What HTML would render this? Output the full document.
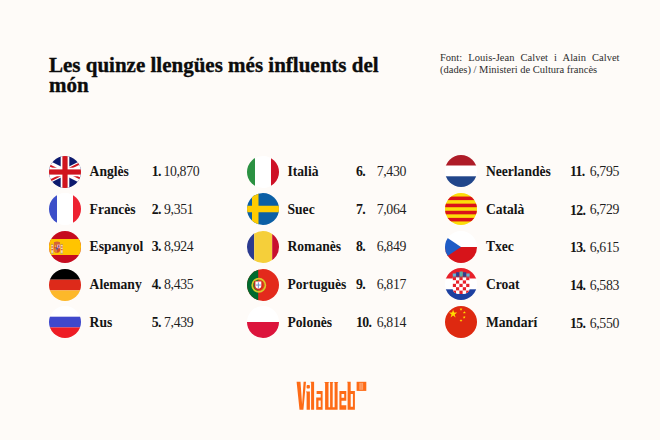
<!DOCTYPE html>
<html><head><meta charset="utf-8">
<style>
html,body{margin:0;padding:0;}
body{width:660px;height:440px;overflow:hidden;background:#fefbf8;position:relative;font-family:"Liberation Serif",serif;color:#111;}
.a{position:absolute;white-space:nowrap;}
.title{left:49px;top:54.8px;font-size:21px;font-weight:bold;line-height:20px;color:#0c0c0c;-webkit-text-stroke:0.35px #0c0c0c;}
.src{left:440px;top:52px;width:179.5px;font-size:10.5px;line-height:12px;color:#2e2e2e;text-align:justify;white-space:normal;}
.flag{position:absolute;width:32px;height:32px;}
.lab{position:absolute;font-size:13.6px;letter-spacing:0px;font-weight:bold;line-height:16px;white-space:nowrap;color:#141414;-webkit-text-stroke:0px #141414;}
.rk{position:absolute;font-size:13.8px;letter-spacing:-0.6px;font-weight:bold;line-height:16px;white-space:nowrap;color:#141414;}
.val{position:absolute;font-size:13.8px;letter-spacing:-0.35px;line-height:16px;white-space:nowrap;color:#1e1e1e;}
</style></head><body>
<div class="a title">Les quinze llengües més influents del<br>món</div>
<div class="a src">Font: Louis-Jean Calvet i Alain Calvet (dades) / Ministeri de Cultura francès</div>
<svg class="flag" style="left:48.70px;top:155.50px" width="32" height="32" viewBox="0 0 32 32"><defs><clipPath id="c0"><circle cx="16" cy="16" r="16"/></clipPath></defs><g clip-path="url(#c0)"><rect x="-16" y="0" width="64" height="32" fill="#0d1a6e"/><path d="M-19.78,-1.89 L51.78,33.89 M-19.78,33.89 L51.78,-1.89" stroke="#fff" stroke-width="6.4"/><path d="M15.55,16.89 L-20.22,-0.99 M16.45,15.11 L52.22,32.99 M15.55,15.11 L51.33,-2.78 M16.45,16.89 L-19.33,34.78" stroke="#d0141e" stroke-width="2.1"/><rect x="11.7" y="-2" width="8.6" height="36" fill="#fff"/><rect x="-16" y="11.7" width="64" height="8.6" fill="#fff"/><rect x="13.4" y="-2" width="5.2" height="36" fill="#d0141e"/><rect x="-16" y="13.4" width="64" height="5.2" fill="#d0141e"/></g></svg>
<svg class="flag" style="left:48.70px;top:193.30px" width="32" height="32" viewBox="0 0 32 32"><defs><clipPath id="c1"><circle cx="16" cy="16" r="16"/></clipPath></defs><g clip-path="url(#c1)"><rect x="-8" y="0" width="16" height="32" fill="#3d4fc9"/><rect x="8" y="0" width="16" height="32" fill="#fff"/><rect x="24" y="0" width="16" height="32" fill="#ee2232"/></g></svg>
<svg class="flag" style="left:48.70px;top:231.00px" width="32" height="32" viewBox="0 0 32 32"><defs><clipPath id="c2"><circle cx="16" cy="16" r="16"/></clipPath></defs><g clip-path="url(#c2)"><rect x="-8" y="0" width="48" height="32" fill="#c60b1e"/><rect x="-8" y="8" width="48" height="16" fill="#ffc400"/><rect x="2.3" y="13.6" width="1.9" height="8.4" fill="#e9d6c8"/><rect x="2.3" y="15.5" width="1.9" height="1" fill="#d0452e"/><rect x="2.3" y="18.2" width="1.9" height="1" fill="#d0452e"/><rect x="1.9" y="12.9" width="2.7" height="1" fill="#c89a3a"/><rect x="1.9" y="21.8" width="2.7" height="1" fill="#b9b070"/><rect x="11.7" y="13.6" width="1.9" height="8.4" fill="#e9d6c8"/><rect x="11.7" y="15.5" width="1.9" height="1" fill="#d0452e"/><rect x="11.7" y="18.2" width="1.9" height="1" fill="#d0452e"/><rect x="11.3" y="12.9" width="2.7" height="1" fill="#c89a3a"/><rect x="11.3" y="21.8" width="2.7" height="1" fill="#b9b070"/><path d="M5.2,13.6 L4.9,11.2 Q8,9.6 11.1,11.2 L10.8,13.6z" fill="#d2643a"/><path d="M4.9,13.6 H11.1 V18.6 Q11.1,21.8 8,21.8 Q4.9,21.8 4.9,18.6z" fill="#d04a2c"/><rect x="8" y="13.6" width="3.1" height="3.6" fill="#e8b8c0"/><rect x="8.8" y="14.3" width="1.6" height="2.2" fill="#9a4a8a"/><rect x="5.6" y="14.2" width="1.7" height="2" fill="#e8b050"/><path d="M4.9,17.2 H8 V21.8 Q4.9,21.8 4.9,18.6z" fill="#e07a3a"/><ellipse cx="8" cy="17.6" rx="1" ry="1.1" fill="#4a5a9a"/></g></svg>
<svg class="flag" style="left:48.70px;top:268.80px" width="32" height="32" viewBox="0 0 32 32"><defs><clipPath id="c3"><circle cx="16" cy="16" r="16"/></clipPath></defs><g clip-path="url(#c3)"><rect x="-8" y="0" width="48" height="10.7" fill="#000"/><rect x="-8" y="10.7" width="48" height="10.7" fill="#dd2a1a"/><rect x="-8" y="21.4" width="48" height="10.6" fill="#fdb82a"/></g></svg>
<svg class="flag" style="left:48.70px;top:306.40px" width="32" height="32" viewBox="0 0 32 32"><defs><clipPath id="c4"><circle cx="16" cy="16" r="16"/></clipPath></defs><g clip-path="url(#c4)"><rect x="-8" y="0" width="48" height="10.7" fill="#fff"/><rect x="-8" y="10.7" width="48" height="10.7" fill="#3f48cc"/><rect x="-8" y="21.4" width="48" height="10.6" fill="#ee1c24"/></g></svg>
<svg class="flag" style="left:246.80px;top:155.50px" width="32" height="32" viewBox="0 0 32 32"><defs><clipPath id="c5"><circle cx="16" cy="16" r="16"/></clipPath></defs><g clip-path="url(#c5)"><rect x="-8" y="0" width="16" height="32" fill="#2b9142"/><rect x="8" y="0" width="16" height="32" fill="#fff"/><rect x="24" y="0" width="16" height="32" fill="#ce1126"/></g></svg>
<svg class="flag" style="left:246.80px;top:193.30px" width="32" height="32" viewBox="0 0 32 32"><defs><clipPath id="c6"><circle cx="16" cy="16" r="16"/></clipPath></defs><g clip-path="url(#c6)"><rect x="-8" y="0" width="48" height="32" fill="#0b5fa5"/><rect x="5" y="0" width="6.5" height="32" fill="#fecc02"/><rect x="-8" y="12.75" width="48" height="6.5" fill="#fecc02"/></g></svg>
<svg class="flag" style="left:246.80px;top:231.00px" width="32" height="32" viewBox="0 0 32 32"><defs><clipPath id="c7"><circle cx="16" cy="16" r="16"/></clipPath></defs><g clip-path="url(#c7)"><rect x="-8" y="0" width="15.2" height="32" fill="#2b3a8f"/><rect x="7.2" y="0" width="18" height="32" fill="#f5cf3a"/><rect x="25.2" y="0" width="15" height="32" fill="#c8102e"/></g></svg>
<svg class="flag" style="left:246.80px;top:268.80px" width="32" height="32" viewBox="0 0 32 32"><defs><clipPath id="c8"><circle cx="16" cy="16" r="16"/></clipPath></defs><g clip-path="url(#c8)"><rect x="-8" y="0" width="48" height="32" fill="#e32a1c"/><rect x="-8" y="0" width="19.2" height="32" fill="#006a2e"/><circle cx="11.8" cy="16.2" r="6.6" fill="none" stroke="#d9c82a" stroke-width="1.7"/><circle cx="11.8" cy="16.2" r="5.2" fill="none" stroke="#c9a020" stroke-width="0.6" opacity="0.6"/><path d="M7.2,11.9 h8.3 v5 q0,4 -4.15,4 q-4.15,0 -4.15,-4z" fill="#d82a1e"/><path d="M8.4,12.6 h5.9 v4.2 q0,2.8 -2.95,2.8 q-2.95,0 -2.95,-2.8z" fill="#fff"/><rect x="10.85" y="13.3" width="1.0" height="5.6" fill="#7090c8"/><rect x="8.9" y="15.55" width="4.9" height="1.0" fill="#7090c8"/></g></svg>
<svg class="flag" style="left:246.80px;top:306.40px" width="32" height="32" viewBox="0 0 32 32"><defs><clipPath id="c9"><circle cx="16" cy="16" r="16"/></clipPath></defs><g clip-path="url(#c9)"><rect x="-8" y="0" width="48" height="16" fill="#fff"/><rect x="-8" y="16" width="48" height="16" fill="#dc143c"/></g></svg>
<svg class="flag" style="left:444.90px;top:155.00px" width="32" height="32" viewBox="0 0 32 32"><defs><clipPath id="c10"><circle cx="16" cy="16" r="16"/></clipPath></defs><g clip-path="url(#c10)"><rect x="-8" y="0" width="48" height="10.7" fill="#ae1c28"/><rect x="-8" y="10.7" width="48" height="10.6" fill="#fff"/><rect x="-8" y="21.3" width="48" height="10.7" fill="#21468b"/></g></svg>
<svg class="flag" style="left:444.90px;top:192.80px" width="32" height="32" viewBox="0 0 32 32"><defs><clipPath id="c11"><circle cx="16" cy="16" r="16"/></clipPath></defs><g clip-path="url(#c11)"><rect x="-8" y="0" width="48" height="32" fill="#fcdd09"/><rect x="-8" y="3.556" width="48" height="3.556" fill="#da121a"/><rect x="-8" y="10.667" width="48" height="3.556" fill="#da121a"/><rect x="-8" y="17.778" width="48" height="3.556" fill="#da121a"/><rect x="-8" y="24.889" width="48" height="3.556" fill="#da121a"/></g></svg>
<svg class="flag" style="left:444.90px;top:230.50px" width="32" height="32" viewBox="0 0 32 32"><defs><clipPath id="c12"><circle cx="16" cy="16" r="16"/></clipPath></defs><g clip-path="url(#c12)"><rect x="-8" y="0" width="48" height="16" fill="#fff"/><rect x="-8" y="16" width="48" height="16" fill="#d7141a"/><path d="M-8,0 L16,16 L-8,32z" fill="#1f5cc6"/></g></svg>
<svg class="flag" style="left:444.90px;top:268.20px" width="32" height="32" viewBox="0 0 32 32"><defs><clipPath id="c13"><circle cx="16" cy="16" r="16"/></clipPath></defs><g clip-path="url(#c13)"><rect x="-8" y="0" width="48" height="10.7" fill="#e8202a"/><rect x="-8" y="10.7" width="48" height="10.6" fill="#fff"/><rect x="-8" y="21.3" width="48" height="10.7" fill="#1d40a0"/><clipPath id="hrs"><path d="M7.6,9 h17 v12 q0,5 -8.5,5 q-8.5,0 -8.5,-5z"/></clipPath><g clip-path="url(#hrs)"><rect x="7.6" y="9" width="17" height="18" fill="#fff"/><rect x="7.60" y="9.00" width="3.40" height="3.40" fill="#e8202a"/><rect x="11.00" y="9.00" width="3.40" height="3.40" fill="#fff"/><rect x="14.40" y="9.00" width="3.40" height="3.40" fill="#e8202a"/><rect x="17.80" y="9.00" width="3.40" height="3.40" fill="#fff"/><rect x="21.20" y="9.00" width="3.40" height="3.40" fill="#e8202a"/><rect x="7.60" y="12.40" width="3.40" height="3.40" fill="#fff"/><rect x="11.00" y="12.40" width="3.40" height="3.40" fill="#e8202a"/><rect x="14.40" y="12.40" width="3.40" height="3.40" fill="#fff"/><rect x="17.80" y="12.40" width="3.40" height="3.40" fill="#e8202a"/><rect x="21.20" y="12.40" width="3.40" height="3.40" fill="#fff"/><rect x="7.60" y="15.80" width="3.40" height="3.40" fill="#e8202a"/><rect x="11.00" y="15.80" width="3.40" height="3.40" fill="#fff"/><rect x="14.40" y="15.80" width="3.40" height="3.40" fill="#e8202a"/><rect x="17.80" y="15.80" width="3.40" height="3.40" fill="#fff"/><rect x="21.20" y="15.80" width="3.40" height="3.40" fill="#e8202a"/><rect x="7.60" y="19.20" width="3.40" height="3.40" fill="#fff"/><rect x="11.00" y="19.20" width="3.40" height="3.40" fill="#e8202a"/><rect x="14.40" y="19.20" width="3.40" height="3.40" fill="#fff"/><rect x="17.80" y="19.20" width="3.40" height="3.40" fill="#e8202a"/><rect x="21.20" y="19.20" width="3.40" height="3.40" fill="#fff"/><rect x="7.60" y="22.60" width="3.40" height="3.40" fill="#e8202a"/><rect x="11.00" y="22.60" width="3.40" height="3.40" fill="#fff"/><rect x="14.40" y="22.60" width="3.40" height="3.40" fill="#e8202a"/><rect x="17.80" y="22.60" width="3.40" height="3.40" fill="#fff"/><rect x="21.20" y="22.60" width="3.40" height="3.40" fill="#e8202a"/></g><path d="M7.85,9.2 L7.70,5.40 L11.00,5.40 L10.85,9.2z" fill="#5ab8d8"/><path d="M11.27,9.2 L11.12,4.20 L14.42,4.20 L14.27,9.2z" fill="#2f3f8f"/><path d="M14.69,9.2 L14.54,3.50 L17.84,3.50 L17.69,9.2z" fill="#55b0a8"/><path d="M18.11,9.2 L17.96,4.20 L21.26,4.20 L21.11,9.2z" fill="#2f3f8f"/><path d="M21.53,9.2 L21.38,5.40 L24.68,5.40 L24.53,9.2z" fill="#5ab8d8"/><rect x="7.7" y="8.6" width="17" height="0.6" fill="#c83030"/></g></svg>
<svg class="flag" style="left:444.90px;top:306.00px" width="32" height="32" viewBox="0 0 32 32"><defs><clipPath id="c14"><circle cx="16" cy="16" r="16"/></clipPath></defs><g clip-path="url(#c14)"><rect x="-8" y="0" width="48" height="32" fill="#de2910"/><polygon points="8.10,3.60 9.07,6.57 12.19,6.57 9.66,8.41 10.63,11.38 8.10,9.54 5.57,11.38 6.54,8.41 4.01,6.57 7.13,6.57" fill="#ffde00"/><polygon points="16.00,1.70 16.36,2.81 17.52,2.81 16.58,3.49 16.94,4.59 16.00,3.91 15.06,4.59 15.42,3.49 14.48,2.81 15.64,2.81" fill="#ffde00"/><polygon points="19.40,4.90 19.76,6.01 20.92,6.01 19.98,6.69 20.34,7.79 19.40,7.11 18.46,7.79 18.82,6.69 17.88,6.01 19.04,6.01" fill="#ffde00"/><polygon points="19.20,9.70 19.56,10.81 20.72,10.81 19.78,11.49 20.14,12.59 19.20,11.91 18.26,12.59 18.62,11.49 17.68,10.81 18.84,10.81" fill="#ffde00"/><polygon points="16.00,12.90 16.36,14.01 17.52,14.01 16.58,14.69 16.94,15.79 16.00,15.11 15.06,15.79 15.42,14.69 14.48,14.01 15.64,14.01" fill="#ffde00"/></g></svg>
<div class="lab" style="left:89.60px;top:164.41px">Anglès</div>
<div class="rk" style="left:151.80px;top:164.48px">1.</div>
<div class="val" style="left:163.40px;top:164.14px">10,870</div>
<div class="lab" style="left:89.60px;top:202.01px">Francès</div>
<div class="rk" style="left:151.80px;top:202.08px">2.</div>
<div class="val" style="left:164.00px;top:201.75px">9,351</div>
<div class="lab" style="left:89.60px;top:239.01px">Espanyol</div>
<div class="rk" style="left:151.80px;top:239.08px">3.</div>
<div class="val" style="left:164.00px;top:238.75px">8,924</div>
<div class="lab" style="left:89.60px;top:277.41px">Alemany</div>
<div class="rk" style="left:151.80px;top:277.48px">4.</div>
<div class="val" style="left:164.00px;top:277.15px">8,435</div>
<div class="lab" style="left:89.60px;top:315.21px">Rus</div>
<div class="rk" style="left:151.80px;top:315.28px">5.</div>
<div class="val" style="left:164.00px;top:314.95px">7,439</div>
<div class="lab" style="left:287.50px;top:164.41px">Italià</div>
<div class="rk" style="left:355.90px;top:164.48px">6.</div>
<div class="val" style="left:376.70px;top:164.14px">7,430</div>
<div class="lab" style="left:287.50px;top:202.01px">Suec</div>
<div class="rk" style="left:355.90px;top:202.08px">7.</div>
<div class="val" style="left:376.70px;top:201.75px">7,064</div>
<div class="lab" style="left:287.50px;top:239.01px">Romanès</div>
<div class="rk" style="left:355.90px;top:239.08px">8.</div>
<div class="val" style="left:376.70px;top:238.75px">6,849</div>
<div class="lab" style="left:287.50px;top:277.41px">Portuguès</div>
<div class="rk" style="left:355.90px;top:277.48px">9.</div>
<div class="val" style="left:376.70px;top:277.15px">6,817</div>
<div class="lab" style="left:287.50px;top:315.21px">Polonès</div>
<div class="rk" style="left:355.90px;top:315.28px">10.</div>
<div class="val" style="left:376.70px;top:314.95px">6,814</div>
<div class="lab" style="left:485.90px;top:164.41px">Neerlandès</div>
<div class="rk" style="left:570.00px;top:164.48px">11.</div>
<div class="val" style="left:589.70px;top:164.14px">6,795</div>
<div class="lab" style="left:485.90px;top:202.01px">Català</div>
<div class="rk" style="left:570.00px;top:202.68px">12.</div>
<div class="val" style="left:589.70px;top:202.34px">6,729</div>
<div class="lab" style="left:485.90px;top:239.01px">Txec</div>
<div class="rk" style="left:570.00px;top:240.08px">13.</div>
<div class="val" style="left:589.70px;top:239.75px">6,615</div>
<div class="lab" style="left:485.90px;top:277.41px">Croat</div>
<div class="rk" style="left:570.00px;top:278.08px">14.</div>
<div class="val" style="left:589.70px;top:277.75px">6,583</div>
<div class="lab" style="left:485.90px;top:315.21px">Mandarí</div>
<div class="rk" style="left:570.00px;top:316.08px">15.</div>
<div class="val" style="left:589.70px;top:315.75px">6,550</div>
<svg style="position:absolute;left:290px;top:375px" width="80" height="40" viewBox="290 375 80 40"><g fill="#fe6b16" fill-rule="evenodd">
<path d="M296.6,381.7 H300.5 L302.1,404.2 L303.6,381.7 H306.0 L303.4,409.7 H299.5 Z"/>
<rect x="306.6" y="385.1" width="3.3" height="3.5" rx="0.8"/>
<path d="M306.0,391.4 H309.9 V409.7 H306.6 V392.3 H306.0 Z"/>
<path d="M310.5,381.7 H314.1 V409.7 H311.1 V382.6 H310.5 Z"/>
<path d="M316.6,391.1 H322.6 V409.7 H316.2 V397.6 H320.7 V393.9 H316.6 Z M318.5,400.6 V406.9 H320.7 V400.6 Z"/>
<path d="M324.5,381.9 H328.9 V382.8 H328.5 V407.2 H330.1 V382.8 H329.7 V381.9 H333.2 V382.8 H332.7 V407.2 H334.6 V382.8 H334.2 V381.9 H338.1 V382.8 H337.6 V409.7 H325.1 V382.8 H324.5 Z"/>
<path d="M339.4,391.1 H346.3 V400.8 H341.5 V405.2 H346.3 V409.7 H339.4 Z M341.5,394.1 V397.8 H344.2 V394.1 Z"/>
<path d="M347.2,381.7 H350.7 V391.1 H354.9 V409.7 H347.6 V382.6 H347.2 Z M350.7,394.1 V406.8 H352.9 V394.1 Z"/>
<rect x="356.6" y="381.8" width="9.7" height="9.1"/>
</g>
<rect x="359.3" y="382.8" width="3.8" height="7" fill="#fda06a"/>
<path d="M361.2,383.3 V389.3" stroke="#fe8040" stroke-width="0.5"/>
</svg>

</body></html>
